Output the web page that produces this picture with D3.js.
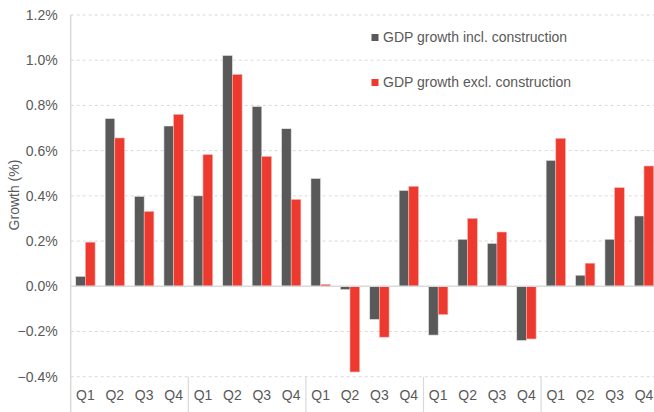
<!DOCTYPE html>
<html>
<head>
<meta charset="utf-8">
<script src="https://cdn.jsdelivr.net/npm/d3@7/dist/d3.min.js"></script>
<style>
  html, body { margin: 0; padding: 0; background: #fff; }
  svg { display: block; font-family: "Liberation Sans", Arial, sans-serif; }
</style>
</head>
<body>
<svg id="chart" width="654" height="412"></svg>
<script>
// Quarterly GDP growth, five years of quarters
const quarters = ["Q1", "Q2", "Q3", "Q4"];
const years = 5;
const seriesNames = ["GDP growth incl. construction", "GDP growth excl. construction"];
const inclConstruction = [
  0.044, 0.742, 0.398, 0.709,
  0.400, 1.021, 0.795, 0.697,
  0.477, -0.015, -0.147, 0.424,
  -0.216, 0.208, 0.190, -0.240,
  0.557, 0.049, 0.208, 0.311
];
const exclConstruction = [
  0.195, 0.656, 0.331, 0.760,
  0.582, 0.937, 0.574, 0.384,
  0.008, -0.379, -0.225, 0.442,
  -0.125, 0.300, 0.240, -0.233,
  0.654, 0.102, 0.436, 0.532
];
const yTicks = [-0.4, -0.2, 0.0, 0.2, 0.4, 0.6, 0.8, 1.0, 1.2];

const colors = ["#595959", "#ee3a2e"];
const textColor = "#595959";
const gridColor = "#d9d9d9";
const fontSize = 14;

const svg = d3.select("#chart");
const W = 654, H = 412;
const plotLeft = 70.7, plotRight = 658.7, plotTop = 15, plotBottom = 376.7;

const idx = d3.range(years * quarters.length);
const x = d3.scaleBand().domain(idx).range([plotLeft, plotRight]).paddingInner(0).paddingOuter(0);
const y = d3.scaleLinear().domain([-0.4, 1.2]).range([plotBottom, plotTop]);
const sub = d3.scaleBand().domain([0, 1]).range([0, x.bandwidth()]).paddingInner(0).paddingOuter(0.52);

// dashed horizontal gridlines
svg.append("g")
  .selectAll("line")
  .data(yTicks.filter(v => v !== 0))
  .join("line")
  .attr("x1", plotLeft).attr("x2", W)
  .attr("y1", d => y(d)).attr("y2", d => y(d))
  .attr("stroke", gridColor)
  .attr("stroke-width", 1)
  .attr("stroke-dasharray", "3,3");

// y-axis tick labels
const yAxis = d3.axisLeft(y).tickValues(yTicks).tickSize(0).tickPadding(13)
  .tickFormat(d => d3.format(".1%")(d / 100));
const yg = svg.append("g").attr("transform", `translate(${plotLeft},0)`).call(yAxis);
yg.select(".domain").remove();
yg.selectAll("text").attr("fill", textColor).attr("font-size", fontSize)
  .attr("font-family", "Liberation Sans, Arial, sans-serif");

// bars
const series = [inclConstruction, exclConstruction];
series.forEach((vals, s) => {
  svg.append("g")
    .selectAll("rect")
    .data(vals)
    .join("rect")
    .attr("x", (d, i) => x(i) + sub(s))
    .attr("width", sub.bandwidth())
    .attr("y", d => y(Math.max(0, d)))
    .attr("height", d => Math.abs(y(d) - y(0)))
    .attr("fill", colors[s])
    .attr("stroke", s === 0 ? "#e6e6e6" : "#f6b0aa")
    .attr("stroke-width", 0.6);
});

// zero line
svg.append("line")
  .attr("x1", plotLeft).attr("x2", W)
  .attr("y1", y(0)).attr("y2", y(0))
  .attr("stroke", gridColor).attr("stroke-width", 1.5);

// left axis line
svg.append("line")
  .attr("x1", plotLeft).attr("x2", plotLeft)
  .attr("y1", plotTop).attr("y2", H)
  .attr("stroke", gridColor).attr("stroke-width", 1.5);

// year separators below the plot
svg.append("g")
  .selectAll("line")
  .data(d3.range(1, years + 1))
  .join("line")
  .attr("x1", d => x(d * quarters.length - 1) + x.bandwidth())
  .attr("x2", d => x(d * quarters.length - 1) + x.bandwidth())
  .attr("y1", plotBottom).attr("y2", H)
  .attr("stroke", gridColor).attr("stroke-width", 1.2);

// quarter labels
const xAxis = d3.axisBottom(x).tickSize(0).tickPadding(0).tickFormat(i => quarters[i % quarters.length]);
const xg = svg.append("g").attr("transform", `translate(0,${plotBottom})`).call(xAxis);
xg.select(".domain").remove();
xg.selectAll("text").attr("fill", textColor).attr("font-size", fontSize)
  .attr("font-family", "Liberation Sans, Arial, sans-serif")
  .attr("dy", 0).attr("y", 23);

// y-axis title
svg.append("text")
  .attr("transform", "translate(19,195) rotate(-90)")
  .attr("text-anchor", "middle")
  .attr("fill", textColor)
  .attr("font-size", fontSize)
  .text("Growth (%)");

// legend
const legend = svg.append("g");
seriesNames.forEach((name, s) => {
  const ly = [42, 87][s];
  legend.append("rect")
    .attr("x", 371.5).attr("y", ly - 8)
    .attr("width", 7).attr("height", 7)
    .attr("fill", colors[s]);
  legend.append("text")
    .attr("x", 383).attr("y", ly)
    .attr("fill", textColor)
    .attr("font-size", fontSize)
    .text(name);
});
</script>
</body>
</html>
